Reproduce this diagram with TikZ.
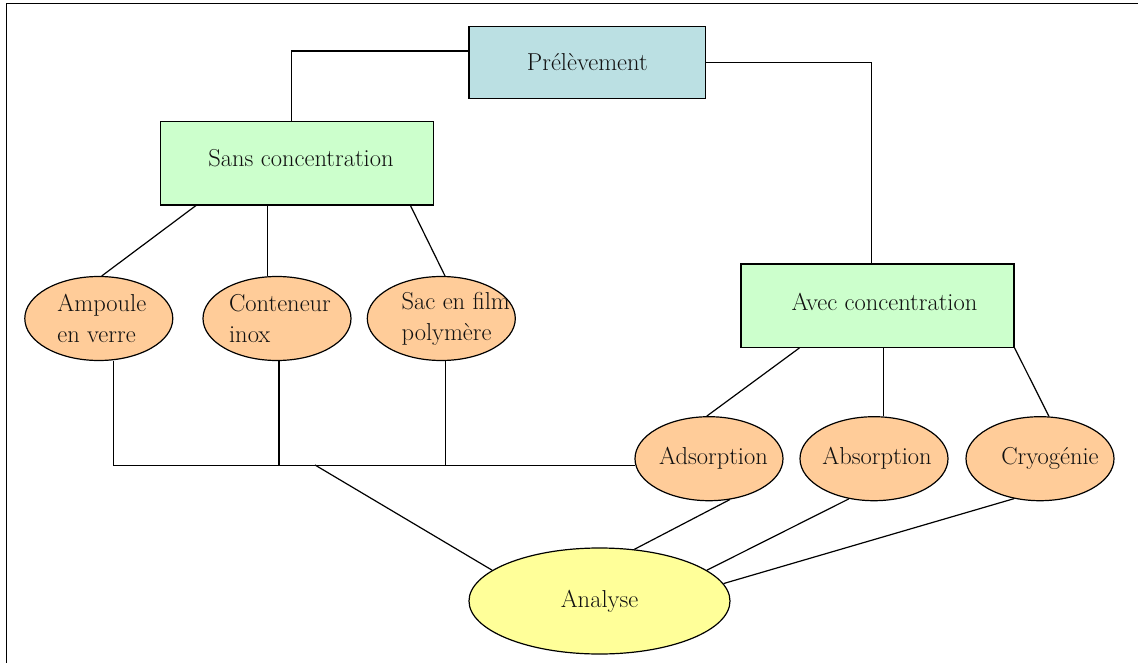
\documentclass[tikz,border=0pt]{standalone}
\usepackage{tikz}
\usetikzlibrary{shapes.geometric}
\definecolor{cyanbox}{HTML}{BBE0E3}
\definecolor{greenbox}{HTML}{CCFFCC}
\definecolor{orangeoval}{HTML}{FFCC99}
\definecolor{yellowoval}{HTML}{FFFF99}
\definecolor{ink}{HTML}{111111}

\begin{document}
\begin{tikzpicture}[x=1pt, y=-1pt, line width=1.2pt,
    box/.style={draw, rectangle, inner sep=0pt, text=ink, font=\fontsize{24.5}{31}\selectfont},
    oval/.style={draw, ellipse, fill=orangeoval, minimum width=148pt, minimum height=84pt,
        inner xsep=-30pt, inner ysep=-10pt, align=left, text=ink, font=\fontsize{24.5}{31}\selectfont}]
    \useasboundingbox (0,0) rectangle (1138,663);
    % Frame
    \draw[line width=1.5pt] (6.7,663) |- (1138,3.5);

    % Boxes
    \node[box, fill=cyanbox, minimum width=236.7pt, minimum height=71.6pt] (pre) at (587.3,62.5) {Prélèvement};
    \node[box, fill=greenbox, minimum width=272.3pt, minimum height=83.3pt, text depth=10pt] (sans) at (297,163.3) {\hspace*{8pt}Sans concentration};
    \node[box, fill=greenbox, minimum width=273pt, minimum height=83.3pt, text depth=8.5pt] (avec) at (877.5,305.7) {\hspace*{14pt}Avec concentration};

    % Ovals
    \node[oval] (ampoule) at (98.8,318.5) {\hspace*{6pt}Ampoule\\\hspace*{6pt}en verre};
    \node[oval] (inox) at (277,318.5) {\hspace*{6pt}Conteneur\\\hspace*{6pt}inox};
    \node[oval] (sac) at (441.3,318.5) {\hspace*{29pt}Sac en film\\\hspace*{29pt}polymère};
    \node[oval] (adso) at (709,458.7) {\hspace*{9pt}Adsorption};
    \node[oval] (abso) at (874,458.7) {\hspace*{6pt}Absorption};
    \node[oval] (cryo) at (1040,458.7) {\hspace*{20pt}Cryogénie};
    \node[oval, fill=yellowoval, minimum width=261pt, minimum height=106pt] (analyse) at (599.5,601) {Analyse};

    % Links
    \coordinate (joint) at (315,465);
    \draw ([yshift=11.5pt]pre.west) -| ([xshift=-5.3pt]sans.north);
    \draw (pre.east) -| ([xshift=-5.8pt]avec.north);
    \draw ([xshift=35.7pt]sans.south west) -- (ampoule.86);
    \draw ([xshift=-29.3pt]sans.south) -- ([xshift=-29.3pt]sans.south |- inox.north);
    \draw ([xshift=-23.3pt]sans.south east) -- (sac.85);
    \draw ([xshift=14.8pt]ampoule.south) |- (adso.185);
    \draw ([xshift=2pt]inox.south) -- ([xshift=2pt]inox.south |- adso.185);
    \draw ([xshift=4pt]sac.south) -- ([xshift=4pt]sac.south |- adso.185);
    \draw (joint) -- (analyse.164);
    \draw ([xshift=59pt]avec.south west) -- (adso.93);
    \draw ([xshift=5.8pt]avec.south) -- ([xshift=5.8pt]avec.south |- abso.north);
    \draw (avec.south east) -- (cryo.78);
    \draw (adso.-63) -- (analyse.56);
    \draw (abso.-122) -- (analyse.16);
    \draw (cryo.-123) -- (analyse.8.5);
\end{tikzpicture}
\end{document}
